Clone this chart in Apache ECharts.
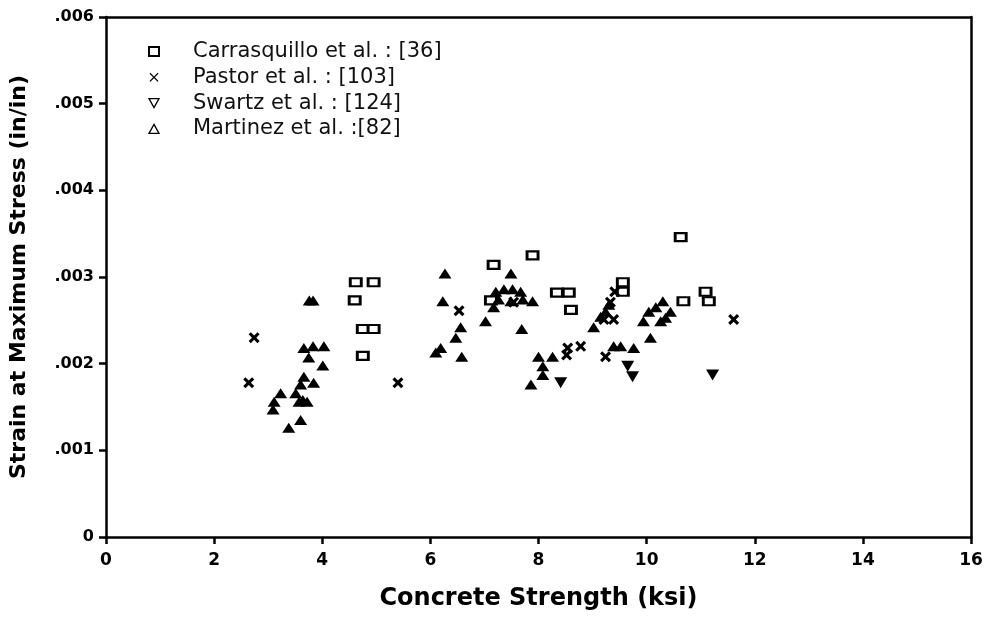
<!DOCTYPE html>
<html><head><meta charset="utf-8">
<script src="https://cdn.jsdelivr.net/npm/echarts@6/dist/echarts.min.js"></script>
<style>html,body{margin:0;padding:0;background:#fff}#c{width:987px;height:638px}</style>
</head><body><div id="c"></div>
<script>
// Data (x: concrete strength ksi, y: strain at maximum stress in/in)
const carrX = [4.62,4.95,4.60,4.75,4.95,4.75,7.17,7.89,10.63,7.12,8.34,8.56,8.60,9.56,9.56,10.68,11.09,11.15];
const carrY = [0.00294,0.00294,0.00273,0.00240,0.00240,0.00209,0.00314,0.00325,0.00346,0.00273,0.00282,0.00282,0.00262,0.00294,0.00283,0.00272,0.00283,0.00272];
const pastX = [2.74,2.64,5.40,6.53,7.54,8.54,8.78,8.52,9.33,9.21,9.39,9.24,9.41,11.61];
const pastY = [0.00230,0.00178,0.00178,0.00261,0.00271,0.00218,0.00220,0.00210,0.00271,0.00251,0.00251,0.00208,0.00283,0.00251];
const swarX = [8.41,9.65,9.74,11.22];
const swarY = [0.00178,0.00197,0.00185,0.00187];
const martX = [3.66,3.83,4.03,3.75,4.01,3.66,3.84,3.60,3.23,3.11,3.09,3.51,3.64,3.57,3.72,3.60,3.38,3.83,3.76,
  6.27,6.23,6.56,6.47,6.10,6.19,6.58,7.49,7.21,7.36,7.52,7.67,7.26,7.49,7.71,7.89,7.17,7.02,7.69,8.00,8.26,8.08,8.08,7.86,
  9.02,9.15,9.30,9.24,9.39,9.52,9.76,9.94,10.26,10.35,10.04,10.30,10.44,10.07,10.17];
const martY = [0.00218,0.00220,0.00220,0.00207,0.00198,0.00185,0.00178,0.00176,0.00166,0.00156,0.00147,0.00166,0.00158,0.00156,0.00156,0.00135,0.00126,0.00273,0.00273,
  0.00304,0.00272,0.00242,0.00230,0.00213,0.00218,0.00208,0.00304,0.00283,0.00286,0.00286,0.00283,0.00274,0.00272,0.00274,0.00272,0.00265,0.00249,0.00240,0.00208,0.00208,0.00197,0.00187,0.00176,
  0.00242,0.00254,0.00268,0.00260,0.00220,0.00220,0.00218,0.00249,0.00249,0.00253,0.00260,0.00272,0.00260,0.00230,0.00265];
const seriesNames = ['Carrasquillo et al. : [36]','Pastor et al. : [103]','Swartz et al. : [124]','Martinez et al. :[82]'];

const zip = (a,b) => a.map((v,i)=>[v,b[i]]);
const crossPath = 'path://M0,2L2,0L5,3L8,0L10,2L7,5L10,8L8,10L5,7L2,10L0,8L3,5Z';
const thinCross = 'path://M0,1L1,0L5,4L9,0L10,1L6,5L10,9L9,10L5,6L1,10L0,9L4,5Z';
const downTri = 'path://M0,0L10,0L5,9Z';
const font = 'DejaVu Sans';

const chart = echarts.init(document.getElementById('c'), null, {renderer:'canvas'});
chart.setOption({
  animation:false,
  backgroundColor:'#fff',
  grid:{left:105, right:16, top:17, bottom:101},
  legend:{
    orient:'vertical', left:143, top:36, itemGap:4.8, itemWidth:10, itemHeight:9,
    textStyle:{fontFamily:font, fontSize:21, color:'#111', padding:[0,0,0,29]},
    data:[
      {name:seriesNames[0], icon:'rect', itemStyle:{color:'#fff', borderColor:'#000', borderWidth:2}},
      {name:seriesNames[1], icon:thinCross, itemStyle:{color:'#000', borderWidth:0}},
      {name:seriesNames[2], icon:downTri, itemStyle:{color:'#fff', borderColor:'#000', borderWidth:1.3}},
      {name:seriesNames[3], icon:'triangle', itemStyle:{color:'#fff', borderColor:'#000', borderWidth:1.3}}
    ]
  },
  xAxis:[{
    type:'value', min:0, max:16, interval:2,
    name:'Concrete Strength (ksi)', nameLocation:'middle', nameGap:50,
    nameTextStyle:{fontFamily:font, fontWeight:'bold', fontSize:24, color:'#000'},
    axisLine:{show:true, onZero:false, lineStyle:{color:'#000', width:2.5}},
    axisTick:{show:true, inside:false, length:7, lineStyle:{color:'#000', width:2.5}},
    axisLabel:{fontFamily:font, fontWeight:'bold', fontSize:17, color:'#000', margin:15},
    splitLine:{show:false}
  },{
    type:'value', min:0, max:16, position:'top',
    axisLine:{show:true, onZero:false, lineStyle:{color:'#000', width:2.5}},
    axisTick:{show:false}, axisLabel:{show:false}, splitLine:{show:false}
  }],
  yAxis:[{
    type:'value', min:0, max:0.006, interval:0.001,
    name:'Strain at Maximum Stress (in/in)', nameLocation:'middle', nameGap:76,
    nameTextStyle:{fontFamily:font, fontWeight:'bold', fontSize:22, color:'#000'},
    axisLine:{show:true, onZero:false, lineStyle:{color:'#000', width:2.5}},
    axisTick:{show:true, inside:false, length:7, lineStyle:{color:'#000', width:2.5}},
    axisLabel:{fontFamily:font, fontWeight:'bold', fontSize:16, color:'#000', margin:12,
      formatter:v => v===0 ? '0' : v.toFixed(3).replace(/^0/,'')},
    splitLine:{show:false}
  },{
    type:'value', min:0, max:0.006, position:'right',
    axisLine:{show:true, onZero:false, lineStyle:{color:'#000', width:2.5}},
    axisTick:{show:false}, axisLabel:{show:false}, splitLine:{show:false}
  }],
  series:[
    {name:seriesNames[0], type:'scatter', data:zip(carrX,carrY), symbol:'rect', symbolSize:[11,8],
      itemStyle:{color:'#fff', borderColor:'#000', borderWidth:2.5, opacity:1}},
    {name:seriesNames[1], type:'scatter', data:zip(pastX,pastY), symbol:crossPath, symbolSize:11,
      itemStyle:{color:'#000', opacity:1}},
    {name:seriesNames[2], type:'scatter', data:zip(swarX,swarY), symbol:downTri, symbolSize:[13,11],
      itemStyle:{color:'#000', opacity:1}},
    {name:seriesNames[3], type:'scatter', data:zip(martX,martY), symbol:'triangle', symbolSize:[13,10],
      itemStyle:{color:'#000', opacity:1}}
  ]
});
</script></body></html>
